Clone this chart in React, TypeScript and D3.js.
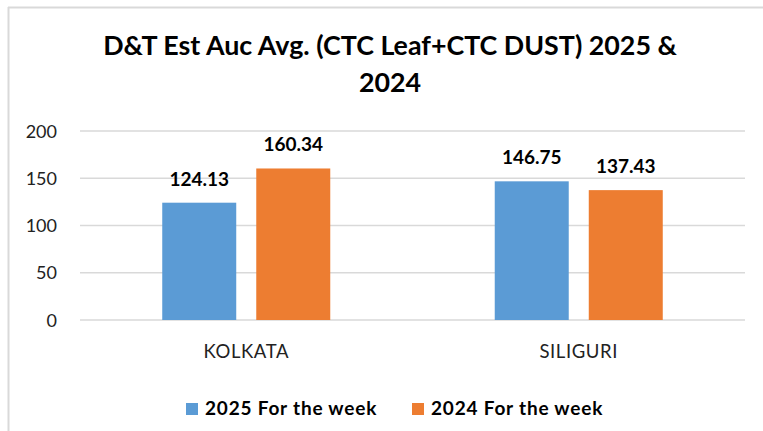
import React from "react";
import * as d3 from "d3";

const categories = ["KOLKATA", "SILIGURI"];
const seriesNames = ["2025 For the week", "2024 For the week"];
const values2025 = [124.13, 146.75];
const values2024 = [160.34, 137.43];
const yTicks = [0, 50, 100, 150, 200];
const titleLines = ["D&T Est Auc Avg. (CTC Leaf+CTC DUST) 2025 &", "2024"];
const colors = ["#5B9BD5", "#ED7D31"];

const W = 763;
const H = 431;
const FONT = "Lato, 'Open Sans', sans-serif";

export default function App() {
  const plotLeft = 80;
  const plotRight = 745;
  const plotTop = 131;
  const plotBottom = 320;

  const y = d3.scaleLinear().domain([0, 200]).range([plotBottom, plotTop]);
  const x0 = d3
    .scaleBand<string>()
    .domain(categories)
    .range([plotLeft, plotRight])
    .paddingInner(0.4947)
    .paddingOuter(0.4947 / 2);
  const x1 = d3
    .scaleBand<string>()
    .domain(seriesNames)
    .range([0, x0.bandwidth()])
    .paddingInner(0.213)
    .paddingOuter(0);

  const seriesValues = [values2025, values2024];
  const fmt = d3.format(".2f");

  return (
    <svg
      width={W}
      height={H}
      style={{ position: "absolute", left: 0, top: 0, background: "#fff" }}
      fontFamily={FONT}
    >
      <rect x={0} y={0} width={W} height={H} fill="#fff" />
      {/* frame */}
      <line x1={8} x2={W} y1={7.5} y2={7.5} stroke="#D9D9D9" strokeWidth={2} />
      <line x1={8.5} x2={8.5} y1={7} y2={H} stroke="#D9D9D9" strokeWidth={2} />

      {/* title */}
      {titleLines.map((t, i) => (
        <text
          key={i}
          x={390}
          y={55 + i * 37}
          textAnchor="middle"
          fontSize={26.8}
          fontWeight="bold"
          fill="#000"
        >
          {t}
        </text>
      ))}

      {/* gridlines and y ticks */}
      {yTicks.map((t) => (
        <g key={t}>
          <line
            x1={plotLeft}
            x2={plotRight}
            y1={y(t)}
            y2={y(t)}
            stroke="#D9D9D9"
            strokeWidth={1.5}
          />
          <text
            x={57}
            y={y(t) + 6.5}
            textAnchor="end"
            fontSize={18}
            fill="#222"
          >
            {t}
          </text>
        </g>
      ))}

      {/* bars */}
      {categories.map((c, ci) => (
        <g key={c} transform={`translate(${x0(c)},0)`}>
          {seriesNames.map((s, si) => {
            const v = seriesValues[si][ci];
            const bx = x1(s) as number;
            return (
              <g key={s}>
                <rect
                  x={bx}
                  y={y(v)}
                  width={x1.bandwidth()}
                  height={y(0) - y(v)}
                  fill={colors[si]}
                />
                <text
                  x={bx + x1.bandwidth() / 2}
                  y={y(v) - 17}
                  textAnchor="middle"
                  fontSize={19}
                  fontWeight="bold"
                  fill="#000"
                >
                  {fmt(v)}
                </text>
              </g>
            );
          })}
          <text
            x={x0.bandwidth() / 2}
            y={357.5}
            textAnchor="middle"
            fontSize={18.5}
            letterSpacing={0.6}
            fill="#222"
          >
            {c}
          </text>
        </g>
      ))}

      {/* legend */}
      {seriesNames.map((s, i) => {
        const lx = [186, 412][i];
        return (
          <g key={s}>
            <rect x={lx} y={403} width={12} height={12} fill={colors[i]} />
            <text
              x={lx + 19}
              y={415}
              fontSize={19}
              fontWeight="bold"
              letterSpacing={0.8}
              fill="#000"
            >
              {s}
            </text>
          </g>
        );
      })}
    </svg>
  );
}
